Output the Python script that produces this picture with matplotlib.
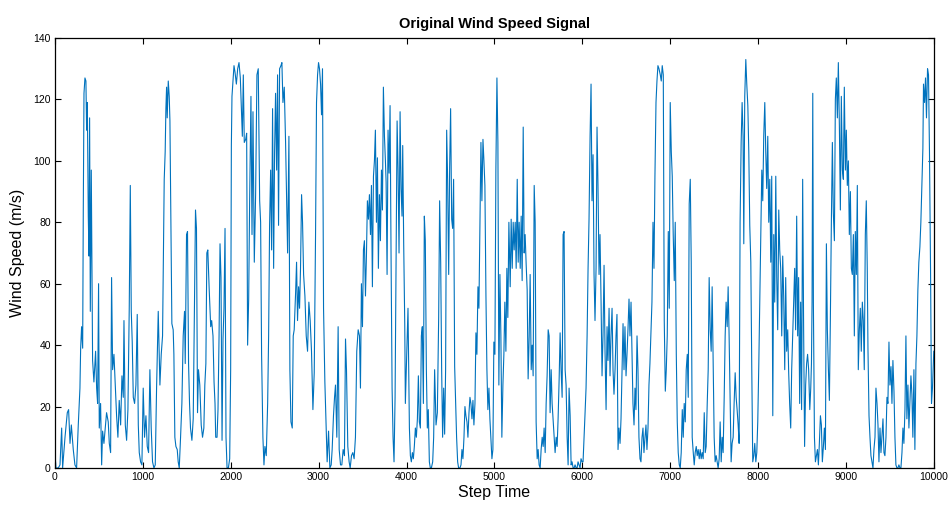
import numpy as np
import matplotlib
matplotlib.use('Agg')
import matplotlib.pyplot as plt

# значения (шаг, скорость ветра)
step_time = [
    0, 11, 38, 57, 76, 87, 114, 140, 155, 171, 186, 208, 227, 246, 265, 284, 292, 303, 315, 322,
    330, 341, 352, 360, 368, 379, 387, 394, 402, 413, 421, 428, 443, 462, 474, 485, 496, 504, 519, 531,
    542, 557, 572, 587, 606, 618, 633, 644, 656, 671, 686, 701, 716, 731, 747, 762, 777, 785, 800, 815,
    830, 845, 857, 868, 879, 891, 906, 921, 936, 948, 959, 974, 989, 1004, 1019, 1035, 1050, 1065, 1080, 1095,
    1110, 1126, 1141, 1156, 1175, 1194, 1209, 1224, 1232, 1243, 1254, 1262, 1270, 1277, 1289, 1300, 1308, 1315, 1330, 1345,
    1353, 1364, 1376, 1391, 1402, 1414, 1429, 1444, 1459, 1474, 1482, 1497, 1508, 1520, 1531, 1542, 1558, 1573, 1588, 1599,
    1610, 1622, 1633, 1648, 1664, 1679, 1694, 1705, 1717, 1728, 1739, 1755,
    1772, 1783, 1798, 1810, 1821, 1829, 1844, 1855, 1867, 1878, 1889, 1901, 1912, 1923, 1935, 1946, 1958, 1973, 1988, 1999,
    2007, 2014, 2026, 2037, 2048, 2064, 2079, 2094, 2109, 2120, 2132, 2143, 2154, 2170, 2181, 2192, 2204, 2215, 2230, 2242,
    2253, 2268, 2283, 2298, 2313, 2329, 2340, 2351, 2366, 2378, 2389, 2404, 2420, 2431, 2442, 2454, 2465, 2476, 2488, 2499,
    2510, 2522, 2533, 2544, 2556, 2571, 2582, 2594, 2609, 2624, 2635, 2647, 2662, 2673, 2685, 2700, 2711, 2722, 2738, 2749,
    2760, 2772, 2783, 2794, 2806, 2817, 2829, 2844, 2859, 2874, 2889, 2904, 2919, 2935, 2950, 2965, 2976, 2988, 2999, 3010,
    3022, 3033, 3044, 3056, 3071, 3086, 3097, 3113, 3128, 3143, 3154, 3169, 3181, 3192, 3207, 3222, 3234, 3249, 3264, 3279,
    3294, 3306, 3317, 3332, 3347, 3359, 3374, 3389, 3404, 3419, 3434, 3450, 3465,
    3476, 3487, 3499, 3510, 3521, 3533, 3544, 3555, 3567, 3578, 3590, 3601, 3612, 3624, 3635, 3646, 3658, 3669, 3680, 3692,
    3703, 3715, 3726, 3737, 3749, 3760, 3768, 3779, 3790, 3802, 3813, 3824, 3836, 3847, 3858, 3870, 3881, 3893, 3904, 3915,
    3927, 3938, 3949, 3957, 3968, 3980, 3987, 4002, 4017, 4033, 4044, 4055, 4067, 4078, 4089, 4101, 4112, 4124, 4135, 4146,
    4158, 4169, 4180, 4192, 4203, 4214, 4226, 4237, 4248, 4260, 4271, 4283, 4298, 4309, 4320, 4336, 4351, 4366, 4377, 4389,
    4400, 4411, 4423, 4434, 4445, 4457, 4468, 4480, 4491, 4502, 4514, 4525, 4536, 4548, 4559, 4570, 4582, 4593, 4608, 4620,
    4631, 4642, 4654, 4665, 4676, 4688, 4699, 4711, 4722, 4733, 4745, 4756, 4767, 4779, 4790, 4801, 4813, 4824, 4835, 4847,
    4858, 4870, 4881, 4892, 4904, 4915, 4926, 4938, 4949, 4960, 4972, 4983, 4994, 5006, 5017, 5029, 5040, 5051, 5063, 5074,
    5085, 5097, 5108, 5119, 5131, 5142, 5153, 5165,
    5180, 5191, 5203, 5214, 5225, 5237, 5248, 5260, 5271, 5282, 5294, 5305, 5316, 5328, 5339, 5350, 5362, 5373, 5384, 5396,
    5407, 5419, 5430, 5441, 5453, 5464, 5475, 5487, 5498, 5509, 5521, 5532, 5544, 5555, 5566, 5578, 5589, 5600, 5612, 5623,
    5634, 5646, 5657, 5668, 5680, 5691, 5703, 5714, 5725, 5737, 5748, 5759, 5771, 5782, 5793, 5805, 5816, 5828, 5839, 5850,
    5862, 5873, 5884, 5896, 5907, 5918, 5930, 5941, 5952, 5964, 5975, 5986, 5998, 6009, 6021, 6032, 6043, 6055, 6066, 6077,
    6089, 6100, 6111, 6123, 6134, 6145, 6157, 6168, 6179, 6191, 6202, 6214, 6225, 6236, 6248, 6259, 6271, 6282, 6293, 6305,
    6316, 6327, 6339, 6350, 6361, 6373, 6384, 6395, 6407, 6418, 6430, 6441, 6452, 6464, 6475, 6486, 6498, 6509, 6520, 6532,
    6543, 6555, 6566, 6577, 6589, 6600, 6611, 6623, 6634, 6645, 6657, 6668, 6680, 6691, 6702, 6714, 6725, 6736, 6748, 6759,
    6770, 6782, 6793, 6805, 6816, 6827, 6839, 6850, 6861, 6873,
    6888, 6899, 6910, 6922, 6933, 6945, 6956, 6967, 6979, 6990, 7001, 7013, 7024, 7035, 7047, 7058, 7070, 7081, 7092, 7104,
    7115, 7126, 7138, 7149, 7160, 7172, 7183, 7195, 7206, 7217, 7229, 7240, 7251, 7263, 7274, 7285, 7297, 7308, 7319, 7331,
    7342, 7353, 7365, 7376, 7388, 7399, 7410, 7422, 7433, 7444, 7456, 7467, 7478, 7490, 7501, 7512, 7524, 7535, 7546, 7558,
    7569, 7581, 7592, 7603, 7615, 7626, 7637, 7649, 7660, 7671, 7683, 7694, 7705, 7717, 7728, 7740, 7751, 7762, 7774, 7785,
    7796, 7808, 7819, 7830, 7838, 7849, 7861, 7872, 7884, 7895, 7906, 7918, 7929, 7940, 7952, 7963, 7975, 7986, 7997, 8009,
    8020, 8031, 8043, 8054, 8065, 8077, 8088, 8099, 8111, 8122, 8134, 8145, 8156, 8168, 8179, 8190, 8202, 8213, 8224, 8236,
    8247, 8258, 8270, 8281, 8292, 8304, 8315, 8326, 8338, 8349, 8360, 8372, 8383, 8394, 8406, 8417, 8428, 8440, 8451, 8462,
    8474, 8485, 8496, 8508, 8519, 8530, 8542, 8553, 8564, 8576,
    8589, 8600, 8608, 8615, 8623, 8630, 8642, 8653, 8664, 8676, 8687, 8698, 8710, 8721, 8732, 8744, 8755, 8767, 8778, 8789,
    8801, 8812, 8823, 8835, 8846, 8857, 8869, 8880, 8891, 8903, 8914, 8926, 8937, 8948, 8960, 8971, 8982, 8994, 9005, 9016,
    9028, 9039, 9051, 9062, 9073, 9085, 9096, 9107, 9119, 9130, 9141, 9153, 9164, 9175, 9187, 9198, 9209, 9221, 9232, 9243,
    9251, 9263, 9274, 9285, 9297, 9308, 9319, 9331, 9342, 9354, 9365, 9376, 9388, 9399, 9410, 9422, 9433, 9444, 9456, 9467,
    9478, 9490, 9501, 9513, 9524, 9535, 9547, 9558, 9569, 9581, 9592, 9603, 9615, 9626, 9638, 9649, 9660, 9672, 9683, 9694,
    9706, 9717, 9728, 9740, 9751, 9762, 9774, 9785, 9797, 9808, 9819, 9830, 9842, 9853, 9864, 9876, 9883, 9895, 9906, 9917,
    9929, 9940, 9951, 9963, 9974, 9985, 10000,
]

wind_speed = [
    5, 0, 0, 1, 13, 0, 10, 18, 19, 8, 14, 6, 1, 0, 14, 26, 39, 46, 39, 84,
    122, 127, 126, 110, 119, 82, 69, 114, 51, 97, 65, 35, 28, 38, 26, 21, 60, 13, 21, 1,
    12, 8, 13, 18, 15, 8, 5, 62, 32, 37, 27, 17, 10, 22, 14, 30, 23, 48, 14, 9,
    19, 52, 92, 51, 41, 23, 21, 27, 50, 14, 5, 2, 1, 26, 10, 17, 7, 5, 32, 13,
    2, 0, 1, 26, 51, 27, 37, 43, 66, 94, 103, 117, 124, 114, 126, 121, 113, 91, 47, 45,
    37, 10, 7, 6, 2, 0, 10, 21, 43, 51, 34, 76, 77, 34, 21, 13, 9, 16, 56, 84,
    78, 18, 32, 27, 14, 10, 13, 27, 34, 70, 71, 58,
    46, 48, 43, 28, 21, 10, 10, 19, 43, 73, 62, 9, 42, 52, 78, 10, 0, 0, 3, 32,
    105, 121, 126, 131, 129, 125, 130, 132, 127, 118, 108, 128, 106, 107, 109, 40, 55, 87, 121, 76,
    116, 67, 89, 128, 130, 87, 80, 37, 10, 1, 7, 4, 21, 43, 79, 97, 71, 117, 65, 103,
    122, 97, 128, 79, 130, 131, 132, 119, 124, 106, 89, 70, 108, 32, 15, 13, 43, 45, 57, 67,
    48, 59, 52, 65, 89, 80, 63, 56, 43, 38, 54, 48, 38, 19, 31, 76, 119, 128, 132, 130,
    125, 115, 130, 52, 28, 13, 2, 12, 0, 1, 6, 17, 23, 27, 10, 46, 6, 1, 1, 6,
    4, 42, 32, 7, 2, 0, 4, 5, 3, 10, 38, 45, 43,
    26, 60, 46, 71, 74, 56, 69, 87, 81, 89, 76, 92, 59, 95, 100, 110, 80, 101, 65, 89,
    74, 97, 84, 124, 108, 100, 93, 63, 110, 96, 118, 70, 26, 10, 2, 23, 65, 113, 97, 70,
    116, 91, 82, 105, 73, 47, 21, 37, 52, 13, 4, 2, 5, 3, 7, 13, 10, 16, 30, 15,
    13, 43, 46, 21, 82, 74, 32, 13, 19, 2, 0, 0, 2, 10, 32, 14, 18, 49, 87, 67,
    32, 10, 26, 11, 32, 110, 94, 63, 98, 117, 81, 78, 94, 33, 21, 10, 2, 0, 0, 1,
    6, 3, 10, 20, 17, 15, 10, 18, 23, 21, 16, 22, 14, 21, 44, 37, 59, 52, 78, 106,
    87, 107, 100, 92, 56, 32, 19, 26, 16, 10, 3, 6, 41, 37, 97, 127, 106, 27, 63, 43,
    10, 27, 37, 54, 38, 65, 49, 80,
    59, 81, 65, 80, 71, 80, 65, 94, 67, 80, 65, 82, 61, 111, 70, 76, 66, 58, 29, 43,
    63, 32, 40, 30, 92, 80, 15, 3, 6, 1, 0, 6, 10, 7, 13, 5, 21, 30, 45, 43,
    18, 32, 21, 16, 10, 5, 10, 7, 16, 29, 44, 32, 23, 76, 77, 32, 27, 10, 1, 26,
    17, 1, 2, 0, 0, 1, 0, 0, 2, 1, 0, 3, 2, 2, 10, 18, 26, 43, 65, 81,
    108, 125, 87, 102, 63, 48, 65, 111, 92, 63, 76, 54, 30, 43, 66, 38, 19, 46, 35, 52,
    30, 43, 52, 32, 24, 32, 43, 50, 6, 13, 8, 16, 31, 47, 32, 46, 30, 37, 45, 55,
    43, 54, 37, 21, 14, 26, 19, 43, 32, 10, 3, 2, 10, 13, 5, 10, 14, 6, 13, 27,
    34, 45, 54, 80, 65, 95, 119, 126, 131, 130,
    128, 126, 131, 128, 48, 25, 32, 43, 77, 52, 119, 103, 95, 76, 61, 80, 37, 15, 5, 1,
    0, 5, 19, 10, 21, 15, 32, 37, 23, 86, 94, 67, 10, 5, 1, 5, 7, 4, 6, 3,
    6, 3, 5, 3, 18, 5, 7, 21, 32, 62, 45, 38, 59, 32, 10, 2, 4, 2, 0, 3,
    15, 2, 10, 5, 23, 43, 54, 46, 59, 43, 21, 2, 8, 10, 21, 31, 23, 19, 14, 8,
    80, 106, 119, 108, 73, 121, 133, 125, 118, 103, 79, 67, 32, 2, 4, 8, 2, 5, 15, 34,
    54, 76, 97, 87, 108, 119, 103, 91, 108, 80, 94, 67, 95, 17, 76, 54, 95, 62, 45, 84,
    71, 65, 43, 69, 56, 32, 62, 38, 45, 31, 21, 13, 32, 43, 54, 65, 45, 82, 43, 62,
    21, 54, 19, 94, 45, 7, 27, 34, 37, 32,
    19, 26, 34, 54, 122, 54, 10, 2, 4, 6, 1, 8, 17, 14, 2, 7, 13, 6, 73, 45,
    32, 22, 48, 81, 106, 83, 74, 120, 127, 114, 132, 111, 84, 121, 97, 94, 124, 97, 110, 92,
    100, 76, 90, 65, 63, 76, 43, 77, 63, 92, 32, 45, 52, 38, 54, 48, 32, 76, 87, 65,
    39, 17, 10, 4, 2, 0, 6, 10, 26, 21, 14, 2, 13, 5, 10, 16, 5, 4, 10, 23,
    21, 41, 27, 33, 21, 35, 25, 10, 1, 0, 0, 1, 0, 0, 5, 13, 8, 19, 43, 16,
    27, 13, 21, 30, 24, 10, 32, 6, 34, 43, 58, 67, 72, 80, 92, 104, 125, 119, 127, 114,
    130, 128, 103, 65, 21, 26, 38,
]

plt.rcParams['font.family'] = ['Liberation Sans', 'DejaVu Sans']

fig = plt.figure(figsize=(9.48, 5.07), dpi=100)
ax = fig.add_axes([0.058, 0.077, 0.927, 0.848])

ax.plot(step_time, wind_speed, color='#0072BD', linewidth=0.8)

ax.set_xlim(0, 10000)
ax.set_ylim(0, 140)
ax.set_xticks(np.arange(0, 10001, 1000))
ax.set_yticks(np.arange(0, 141, 20))
ax.tick_params(direction='in', top=True, right=True, length=4, width=0.8,
               labelsize=7.5, pad=3)
for s in ax.spines.values():
    s.set_linewidth(0.9)

ax.set_title('Original Wind Speed Signal', fontsize=10.5, fontweight='bold', pad=7)
ax.set_xlabel('Step Time', fontsize=11.5, labelpad=2)
ax.set_ylabel('Wind Speed (m/s)', fontsize=11.5, labelpad=6)

fig.savefig('out.png', dpi=100)
